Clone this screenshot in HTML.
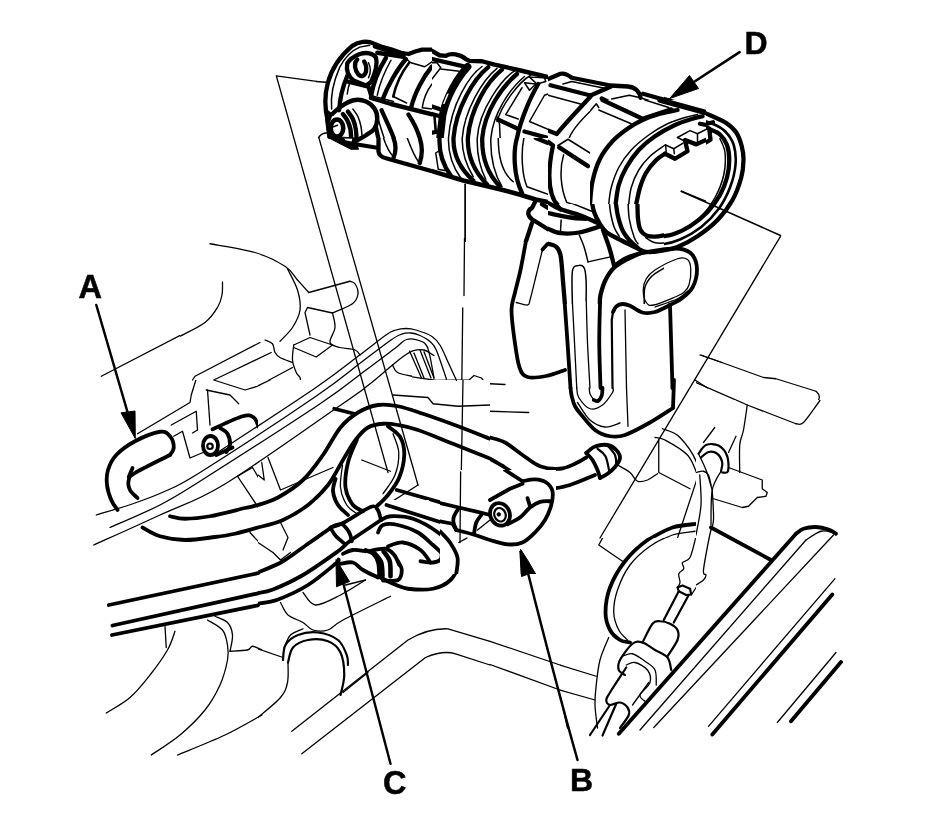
<!DOCTYPE html>
<html><head><meta charset="utf-8"><title>Diagram</title>
<style>
html,body{margin:0;padding:0;background:#fff;}
body{width:928px;height:833px;overflow:hidden;}
svg{display:block}
path,ellipse,line,circle{vector-effect:non-scaling-stroke}
.k{fill:none;stroke:#000;stroke-width:3.8px;stroke-linecap:round;stroke-linejoin:round}
.m{fill:none;stroke:#000;stroke-width:2.2px;stroke-linecap:round;stroke-linejoin:round}
.t{fill:none;stroke:#000;stroke-width:1.3px;stroke-linecap:round;stroke-linejoin:round}
.tube .k{stroke-width:4.3px}.tube .t{stroke-width:1.5px}.tube .m{stroke-width:2.6px}
.f{fill:#000;stroke:#000;stroke-width:1px}
.w{fill:#fff;stroke:none}
text{filter:grayscale(1);stroke:#000;stroke-width:.5px;font-family:"Liberation Sans",sans-serif;font-weight:bold;fill:#000}
</style></head><body>
<svg width="928" height="833" viewBox="0 0 928 833">
<defs>
<clipPath id="c8"><rect x="0" y="0" width="928" height="832"/></clipPath>
<clipPath id="cR"><rect x="416" y="-200" width="800" height="1400"/></clipPath>
<clipPath id="cC"><path d="M548 34H664V100H590V138H548Z"/></clipPath>
<clipPath id="cG"><path d="M548 138H590V204H548Z"/></clipPath>
<clipPath id="cJ"><rect x="548" y="204" width="116" height="100"/></clipPath>
<clipPath id="cH"><rect x="590" y="100" width="116" height="104"/></clipPath>
<clipPath id="cRing"><path d="M664 34H928V320H664V204H706V100H664Z"/></clipPath>
<clipPath id="cK"><path d="M258 380H490V470H440V500H258Z"/></clipPath>
<clipPath id="cL"><path d="M258 500H440V574H490V740H258Z"/></clipPath>
<clipPath id="c5"><rect x="0" y="200" width="180" height="180"/></clipPath>
<clipPath id="cM"><path d="M180 200H316V242H412V380H258V400H180Z"/></clipPath>
<clipPath id="c6"><rect x="0" y="380" width="258" height="208"/></clipPath>
<clipPath id="cP"><rect x="696" y="220" width="232" height="180"/></clipPath>
<clipPath id="cQ"><rect x="696" y="400" width="232" height="208"/></clipPath>
<clipPath id="c4"><path d="M490 330H696V538H556V470H490Z"/></clipPath>
<clipPath id="cU"><rect x="440" y="470" width="116" height="104"/></clipPath>
<clipPath id="cR2"><path d="M560 538H696V608H792V740H560Z"/></clipPath>
<clipPath id="cY"><rect x="412" y="238" width="78" height="142"/></clipPath>
</defs>
<rect width="928" height="833" fill="#fff"/>
<g class="tube">
<!--A tube left top-->
<g transform="translate(316,34) scale(.125)" clip-path="url(#c8)">
<path class="k" d="M95 700 C70 600 70 480 95 390 C125 280 200 170 290 95 C340 60 410 52 460 75 L520 100 L600 122 L680 150 L740 160 L800 138 L850 125 L928 125"/>
<path class="t" d="M125 600 C115 500 140 380 190 265 C230 190 290 130 350 105 L430 90"/>
<path class="k" d="M185 610 C190 520 215 420 250 335"/>
<path class="t" d="M250 480 C255 440 262 410 272 385"/>
<path class="k" d="M250 235 C270 200 300 180 350 160 C400 145 460 150 480 190 C495 240 470 320 440 385 L400 412 L300 372 C260 340 240 290 250 235 Z"/>
<path class="k" d="M330 205 C300 230 310 290 340 325 C360 345 390 340 400 300 C405 270 395 235 385 220"/>
<path class="t" d="M420 230 C440 270 440 310 420 350"/>
<path class="k" d="M250 380 L420 422 L445 505"/>
<path class="k" d="M470 100 L700 172"/>
<path class="k" d="M490 150 L700 182"/>
<path class="k" d="M560 190 C510 270 460 380 440 500"/>
<path class="t" d="M600 210 C560 280 510 390 490 490"/>
<path class="k" d="M720 200 C650 280 570 420 530 530"/>
<path class="m" d="M745 230 C690 300 640 400 618 500"/>
<path class="t" d="M618 500 L725 552"/>
<path class="t" d="M700 182 L760 230 L870 262 L928 222"/>
<path class="k" d="M928 260 C860 340 790 470 762 585"/>
<path class="t" d="M928 400 C890 450 860 520 850 590 L928 600"/>
<path class="k" style="stroke-width:4.4px" d="M440 512 L600 560 L928 642"/>
<path class="t" d="M450 495 L620 540"/>
<path class="k" d="M525 610 C560 690 600 770 622 832"/>
<path class="k" d="M478 740 L498 832"/>
<path class="k" d="M740 645 C790 720 815 780 830 832"/>
<path class="t" d="M500 690 C515 740 530 790 545 832"/>
<path class="t" d="M20 832 C30 805 60 792 95 790"/>
<path class="t" d="M0 380 L80 386"/>
</g>
<!--B-->
<g transform="translate(432,34) scale(.125)" clip-path="url(#c8)">
<path class="k" style="stroke-width:4.4px" d="M0 135 L60 170 L110 175 C150 150 225 160 270 200 L300 215 L400 218 L500 245 L700 290 L928 345"/>
<path class="k" d="M0 200 L280 265"/>
<path class="t" d="M0 230 L40 230 L70 270 L0 360 M70 280 L250 302"/>
<path class="k" style="stroke-width:7.5px" d="M285 262 C205 350 115 500 85 650 L64 832"/>
<path class="w" d="M120 480 L135 475 L100 560 L88 560 Z"/>
<path class="k" d="M0 640 L70 660"/>
<path class="k" d="M0 580 L60 600 M0 790 L50 780"/>
<path class="m" d="M20 660 L30 780"/>
<path class="t" d="M400 260 C300 330 150 560 132 832"/>
<path class="k" d="M450 265 C330 360 190 600 172 832"/>
<path class="t" d="M520 275 C400 370 258 620 242 832"/>
<path class="k" d="M560 285 C440 380 305 600 287 832"/>
<path class="t" d="M660 295 C560 360 378 600 362 832"/>
<path class="k" d="M680 320 C560 420 420 620 402 832"/>
<path class="t" d="M740 340 C620 440 488 640 471 832"/>
<path class="t" d="M790 330 C700 380 560 560 520 700"/>
<path class="k" d="M850 400 C790 500 710 680 680 832"/>
<path class="t" d="M780 345 L900 350 L910 380 L840 400 Z M740 390 L830 400 L780 450 Z"/>
<path class="t" d="M720 430 L590 645 L690 680"/>
<path class="k" d="M530 685 L690 760"/>
<path class="t" d="M520 660 L540 720 L545 832"/>
<path class="k" d="M740 780 L928 832"/>
<path class="t" d="M928 480 L900 490 L780 700 L928 762"/>
</g>
<!--C-->
<g clip-path="url(#cC)"><g transform="translate(548,34) scale(.125)">
<path class="k" d="M0 360 L100 318 C130 312 160 325 190 350 L500 412 L640 420 C700 425 735 465 740 510"/>
<path class="k" d="M760 478 L928 525"/>
<path class="t" d="M740 510 L928 572"/>
<path class="k" d="M20 410 L340 492 L500 422"/>
<path class="k" d="M340 500 C250 600 150 700 70 800 L0 772"/>
<path class="t" d="M120 400 L190 380 L480 440 M0 490 L260 560"/>
<path class="k" d="M430 515 L750 682 L928 622"/>
<path class="k" d="M750 690 C680 740 620 790 570 832"/>
<path class="t" d="M510 520 L650 490 L740 510 M400 610 L680 722 M400 560 C300 650 200 750 170 832"/>
<path class="t" d="M780 832 L928 742"/>
<path class="k" d="M850 832 L928 792"/>
</g></g>
<!--E-->
<g transform="translate(316,138) scale(.125)" clip-path="url(#c8)">
<path class="k" d="M500 0 L500 110 C505 140 530 155 560 162 L928 265"/>
<path class="k" d="M620 0 C640 50 640 110 620 160 M830 0 C850 60 850 140 830 200"/>
<path class="t" d="M540 0 C560 60 590 120 620 150 M730 0 C760 80 790 150 820 190"/>
</g>
<!--F-->
<g transform="translate(432,138) scale(.125)" clip-path="url(#c8)">
<path class="k" style="stroke-width:4.6px" d="M0 265 L250 340 L550 412 L700 452 L830 492 L928 512"/>
<path class="k" d="M60 0 C55 120 90 220 150 300"/>
<path class="t" d="M132 0 C128 120 165 230 230 320"/>
<path class="k" d="M172 0 C168 130 230 250 330 340"/>
<path class="t" d="M242 0 C238 120 275 220 330 310"/>
<path class="k" d="M287 0 C283 140 340 270 440 370"/>
<path class="t" d="M362 0 C358 130 385 240 430 330"/>
<path class="k" d="M402 0 C398 140 440 280 540 385"/>
<path class="t" d="M471 0 C466 140 495 280 560 390"/>
<path class="t" d="M530 0 C530 140 560 280 650 350"/>
<path class="k" d="M680 0 C650 100 650 300 720 440"/>
<path class="t" d="M735 0 C710 120 720 300 760 390 L928 450"/>
<path class="t" d="M30 120 L50 250 L100 260 M30 120 L60 100"/>
<path class="t" style="stroke-width:1.7px" d="M265 370 L265 832"/>
<path class="k" d="M830 0 L928 40"/>
<path class="k" d="M830 500 L800 560 C760 580 760 620 800 650 L928 730 M880 530 L928 560 M800 680 L750 832"/>
</g>
<!--G-->
<g clip-path="url(#cG)"><g transform="translate(548,138) scale(.125)">
<path class="k" d="M570 0 C470 80 400 180 370 300 C345 420 350 540 400 660 L460 832"/>
<path class="k" d="M0 30 L40 60 C10 200 0 350 30 450 C50 520 90 560 150 580 L400 662"/>
<path class="k" d="M90 75 L320 225"/>
<path class="t" d="M80 60 L160 10 L360 135 M125 135 C90 250 100 400 150 515 L350 580"/>
<path class="t" d="M760 0 C640 100 540 250 500 400 C470 540 490 700 560 800"/>
<path class="k" d="M880 0 C750 80 620 220 560 400 C520 550 540 700 620 832"/>
<path class="t" d="M928 60 C800 150 700 300 650 480 C630 600 650 740 700 832"/>
<path class="k" d="M928 140 C800 230 730 380 710 520 C700 650 720 760 800 800 L928 770"/>
<path class="k" d="M0 520 L100 570 M0 600 L180 640 L400 700 M0 740 C100 780 250 770 420 712"/>
<path class="t" d="M105 650 L100 750 M250 780 L270 832"/>
</g></g>
<g transform="translate(316,34) scale(.125)">
<path class="k" style="stroke-width:4.4px" d="M130 640 C141.7 630.0 171.7 598.3 200 580 C228.3 561.7 266.7 536.7 300 530 C333.3 523.3 371.7 528.3 400 540 C428.3 551.7 455.0 576.7 470 600 C485.0 623.3 490.8 653.3 490 680 C489.2 706.7 480.0 738.3 465 760 C450.0 781.7 422.5 795.0 400 810 C377.5 825.0 341.7 843.3 330 850"/>
<ellipse class="k" style="stroke-width:4.6px" cx="168" cy="752" rx="50" ry="68"/>
<path class="t" d="M140 742 L172 730"/>
<path class="k" style="stroke-width:4.4px" d="M215 640 C220.8 648.3 240.0 670.0 250 690 C260.0 710.0 269.7 733.3 275 760 C280.3 786.7 280.8 835.0 282 850"/>
<path class="k" d="M255 620 C261.7 630.0 284.5 656.7 295 680 C305.5 703.3 313.0 731.7 318 760 C323.0 788.3 323.8 835.0 325 850"/>
<path class="t" d="M295 600 C301.7 610.0 324.2 636.7 335 660 C345.8 683.3 354.5 713.3 360 740 C365.5 766.7 366.7 806.7 368 820"/>
<path class="f" d="M80 600 L130 640 L110 700 L118 820 L350 834 L322 872 L340 922 L280 922 L200 882 L120 840 L95 832 L78 700 Z"/>
<path class="w" d="M225 835 L290 838 L285 860 L235 850 Z"/>
<path class="k" d="M330 884 L490 910"/>
</g>
<g clip-path="url(#cRing)"><g transform="translate(560,70) scale(.25)">
<path class="k" d="M380 104 C386.0 106.0 393.3 109.0 416 116 C438.7 123.0 482.7 134.0 516 146 C549.3 158.0 591.2 177.0 616 188 C640.8 199.0 650.2 201.7 665 212 C679.8 222.3 694.7 234.5 705 250 C715.3 265.5 722.2 286.7 727 305 C731.8 323.3 734.3 339.2 734 360 C733.7 380.8 732.3 403.3 725 430 C717.7 456.7 705.8 491.7 690 520 C674.2 548.3 653.3 575.8 630 600 C606.7 624.2 576.7 647.0 550 665 C523.3 683.0 492.3 698.7 470 708 C447.7 717.3 431.0 718.3 416 721 C401.0 723.7 386.0 723.5 380 724"/>
<path class="m" d="M540 195 C551.7 198.3 590.0 206.7 610 215 C630.0 223.3 645.8 230.8 660 245 C674.2 259.2 688.0 277.5 695 300 C702.0 322.5 704.5 351.7 702 380 C699.5 408.3 691.2 440.8 680 470 C668.8 499.2 654.2 528.7 635 555 C615.8 581.3 590.8 607.5 565 628 C539.2 648.5 507.5 666.3 480 678 C452.5 689.7 423.3 696.0 400 698 C376.7 700.0 357.5 698.0 340 690 C322.5 682.0 302.5 656.7 295 650"/>
<path class="k" d="M600 238 C606.7 241.3 628.7 247.7 640 258 C651.3 268.3 661.8 283.0 668 300 C674.2 317.0 677.0 338.3 677 360 C677.0 381.7 674.2 406.7 668 430 C661.8 453.3 653.0 477.0 640 500 C627.0 523.0 610.0 547.2 590 568 C570.0 588.8 543.3 610.0 520 625 C496.7 640.0 470.0 651.2 450 658 C430.0 664.8 408.3 664.7 400 666"/>
<path class="t" d="M640 275 C643.3 284.2 657.5 305.8 660 330 C662.5 354.2 661.7 390.0 655 420 C648.3 450.0 635.8 481.7 620 510 C604.2 538.3 583.3 567.5 560 590 C536.7 612.5 506.7 632.0 480 645 C453.3 658.0 413.3 664.2 400 668"/>
</g></g>
<g transform="translate(560,70) scale(.25)">
<path class="t" d="M485 485 L882 662"/>
</g>
<line class="k" style="stroke-width:2.6px" x1="739.6" y1="52.1" x2="690" y2="84.5"/>
<path class="f" d="M669.6 98.6 L689.5 75.5 L698.5 88.5 Z"/>
<text x="744.6" y="53.8" font-size="32">D</text>
<!-- H 8x -->
<g clip-path="url(#cH)"><g transform="translate(590,100) scale(.125)">
<path class="k" d="M0 832 C3.3 801.7 6.7 710.3 20 650 C33.3 589.7 53.3 523.3 80 470 C106.7 416.7 143.3 370.0 180 330 C216.7 290.0 260.0 258.3 300 230 C340.0 201.7 376.7 180.0 420 160 C463.3 140.0 513.3 123.3 560 110 C606.7 96.7 676.7 85.0 700 80"/>
<path class="k" style="stroke-width:5.5px" d="M560 0 L928 100"/>
<path class="k" d="M100 0 L420 150 L650 75"/>
<path class="t" d="M440 0 L630 60"/>
<path class="t" d="M0 90 L50 30 L70 60"/>
<path class="t" d="M70 80 L330 190"/>
<path class="t" d="M150 832 C153.3 810.0 156.7 748.7 170 700 C183.3 651.3 203.3 590.0 230 540 C256.7 490.0 290.0 443.3 330 400 C370.0 356.7 421.7 315.0 470 280 C518.3 245.0 571.7 213.3 620 190 C668.3 166.7 720.0 152.5 760 140 C800.0 127.5 843.3 119.2 860 115"/>
<path class="k" d="M205 832 C209.2 806.7 215.8 728.7 230 680 C244.2 631.3 263.3 586.7 290 540 C316.7 493.3 351.7 441.7 390 400 C428.3 358.3 471.7 323.3 520 290 C568.3 256.7 630.0 223.3 680 200 C730.0 176.7 783.3 161.7 820 150 C856.7 138.3 886.7 133.3 900 130"/>
<path class="t" d="M310 832 C313.3 810.0 316.7 745.3 330 700 C343.3 654.7 365.0 601.7 390 560 C415.0 518.3 445.0 483.3 480 450 C515.0 416.7 580.0 375.0 600 360"/>
<path class="k" d="M370 832 C375.0 810.0 386.7 742.0 400 700 C413.3 658.0 428.3 616.7 450 580 C471.7 543.3 505.0 505.0 530 480 C555.0 455.0 588.3 438.3 600 430"/>
<path class="k" d="M600 430 L680 470 L780 410 L760 320 L850 355 L928 320"/>
<path class="t" d="M605 360 L610 420"/>
<path class="t" d="M605 360 L670 390 L745 345"/>
<path class="t" d="M670 390 L675 430"/>
<path class="t" d="M700 300 L800 245 L860 270 L928 235"/>
<path class="t" d="M860 270 L860 340"/>
<path class="t" d="M700 300 L760 330"/>
<path class="k" d="M880 190 L928 200"/>
<path class="t" d="M730 730 L928 810"/>
</g></g>
<!-- tab 8x -->
<g clip-path="url(#cRing)"><g transform="translate(648,86) scale(.125)">
<path class="k" d="M400 490 L500 430 L490 340 L410 310 L480 300 L520 290"/>
<path class="t" d="M240 410 L330 355 L395 385 L480 340"/>
<path class="t" d="M395 385 L400 450"/>
</g></g>
<g clip-path="url(#cJ)"><g transform="translate(548,200) scale(.125)">
<path class="k" d="M340 -40 C345.0 -16.7 356.7 60.0 370 100 C383.3 140.0 403.3 173.3 420 200 C436.7 226.7 446.7 241.7 470 260 C493.3 278.3 525.0 291.7 560 310 C595.0 328.3 645.0 353.0 680 370 C715.0 387.0 741.7 404.5 770 412 C798.3 419.5 823.7 416.5 850 415 C876.3 413.5 915.0 405.0 928 403"/>
<path class="k" d="M540 0 C543.3 21.7 550.0 88.3 560 130 C570.0 171.7 583.3 216.7 600 250 C616.7 283.3 640.0 307.5 660 330 C680.0 352.5 710.0 375.8 720 385"/>
<path class="t" d="M490 0 C491.7 16.7 493.3 63.3 500 100 C506.7 136.7 518.3 188.3 530 220 C541.7 251.7 563.3 278.3 570 290"/>
<path class="t" d="M640 0 C641.7 25.0 641.7 100.0 650 150 C658.3 200.0 678.3 266.7 690 300 C701.7 333.3 715.0 341.7 720 350"/>
<path class="k" d="M715 0 C715.8 25.0 715.8 110.0 720 150 C724.2 190.0 728.3 217.5 740 240 C751.7 262.5 770.0 276.2 790 285 C810.0 293.8 837.0 293.5 860 293 C883.0 292.5 916.7 283.8 928 282"/>
<path class="t" d="M780 300 C791.7 306.7 825.3 332.5 850 340 C874.7 347.5 915.0 344.2 928 345"/>
<path class="k" d="M0 20 C15.0 28.3 48.3 53.3 90 70 C131.7 86.7 198.3 100.8 250 120 C301.7 139.2 375.0 174.2 400 185"/>
<path class="k" d="M0 105 C30.0 110.8 130.0 132.5 180 140 C230.0 147.5 280.0 148.3 300 150"/>
<path class="k" d="M0 230 C16.7 235.8 58.3 260.0 100 265 C141.7 270.0 196.7 269.2 250 260 C303.3 250.8 391.7 218.3 420 210"/>
<path class="t" d="M105 160 L100 250"/>
<path class="k" d="M40 0 L70 40 L100 75"/>
<path class="t" d="M150 10 L350 90"/>
<path class="k" d="M440 240 C448.3 263.3 475.0 331.7 490 380 C505.0 428.3 523.3 505.0 530 530"/>
<path class="k" d="M760 415 C740.0 424.2 678.3 449.2 640 470 C601.7 490.8 560.0 511.7 530 540 C500.0 568.3 478.3 603.3 460 640 C441.7 676.7 427.5 728.0 420 760 C412.5 792.0 415.8 820.0 415 832"/>
<path class="t" d="M250 280 C256.7 296.7 278.3 344.2 290 380 C301.7 415.8 315.0 475.8 320 495"/>
<path class="t" d="M320 495 L500 455"/>
<path class="k" d="M0 350 C10.0 353.3 43.3 355.0 60 370 C76.7 385.0 90.0 393.3 100 440 C110.0 486.7 114.2 584.7 120 650 C125.8 715.3 132.5 801.7 135 832"/>
<path class="t" d="M195 832 C195.0 788.3 187.5 621.2 195 570 C202.5 518.8 224.2 529.2 240 525 C255.8 520.8 279.2 524.2 290 545 C300.8 565.8 302.5 607.5 305 650 C307.5 692.5 305.0 775.0 305 800"/>
<path class="t" d="M928 545 C911.7 555.8 855.5 584.2 830 610 C804.5 635.8 785.0 663.0 775 700 C765.0 737.0 770.8 810.0 770 832"/>
</g></g>
</g>
<g transform="translate(490,180) scale(.25)">
<path class="k" d="M144 244 C140.3 263.3 129.3 325.7 122 360 C114.7 394.3 106.0 423.3 100 450 C94.0 476.7 86.3 488.3 86 520 C85.7 551.7 92.7 601.7 98 640 C103.3 678.3 109.3 725.3 118 750 C126.7 774.7 132.2 782.3 150 788 C167.8 793.7 200.0 788.7 225 784 C250.0 779.3 287.5 764.0 300 760"/>
<path class="k" d="M210 278 L230 256"/>
<path class="t" d="M210 278 C205.8 295.0 193.3 346.3 185 380 C176.7 413.7 165.8 460.0 160 480 C154.2 500.0 159.2 498.3 150 500 C140.8 501.7 112.5 491.7 105 490"/>
<path class="k" d="M299 496 C300.8 521.7 306.2 594.0 310 650 C313.8 706.0 320.0 801.7 322 832"/>
<path class="t" d="M330 496 C331.3 521.7 335.2 594.0 338 650 C340.8 706.0 345.5 801.7 347 832"/>
<path class="t" d="M385 480 C385.8 508.3 387.5 591.3 390 650 C392.5 708.7 398.3 801.7 400 832"/>
<path class="k" d="M440 496 C439.5 521.7 436.7 594.0 437 650 C437.3 706.0 441.2 801.7 442 832"/>
<path class="m" d="M490 832 L487 560 L492 528"/>
<path class="k" d="M492 528 C494.2 524.3 498.7 511.3 505 506 C511.3 500.7 520.8 496.5 530 496 C539.2 495.5 546.7 497.3 560 503 C573.3 508.7 593.3 525.8 610 530 C626.7 534.2 641.7 533.0 660 528 C678.3 523.0 710.0 504.7 720 500"/>
<path class="k" d="M720 500 L730 832"/>
<path class="k" d="M500 340 C510.0 334.2 530.0 315.0 560 305 C590.0 295.0 646.7 285.0 680 280 C713.3 275.0 738.3 271.7 760 275 C781.7 278.3 798.7 285.8 810 300 C821.3 314.2 828.0 338.3 828 360 C828.0 381.7 820.5 410.8 810 430 C799.5 449.2 780.0 463.3 765 475 C750.0 486.7 727.5 495.8 720 500"/>
<path class="t" d="M613 440 C613.0 424.2 617.2 408.3 625 395 C632.8 381.7 639.2 373.3 660 360 C680.8 346.7 728.3 322.0 750 315 C771.7 308.0 781.2 311.3 790 318 C798.8 324.7 802.0 338.0 803 355 C804.0 372.0 800.7 404.2 796 420 C791.3 435.8 784.3 442.0 775 450 C765.7 458.0 760.0 459.7 740 468 C720.0 476.3 674.2 496.3 655 500 C635.8 503.7 632.0 500.0 625 490 C618.0 480.0 613.0 455.8 613 440 Z"/>
<path class="t" d="M660 508 C675.0 502.5 728.3 485.5 750 475 C771.7 464.5 783.3 450.0 790 445"/>
<path class="t" d="M540 520 L546 832"/>
<path class="t" d="M840 700 L928 730"/>
<path class="t" d="M820 800 L870 832"/>
</g>
<g clip-path="url(#c4)"><g transform="translate(490,330) scale(.25)">
<path class="k" d="M322 232 C322.8 237.5 324.0 252.8 327 265 C330.0 277.2 333.5 292.5 340 305 C346.5 317.5 352.7 324.2 366 340 C379.3 355.8 401.0 385.8 420 400 C439.0 414.2 460.0 421.7 480 425 C500.0 428.3 513.3 429.2 540 420 C566.7 410.8 608.0 388.0 640 370 C672.0 352.0 716.7 321.7 732 312"/>
<path class="k" d="M732 312 L736 200 L730 232"/>
<path class="k" d="M450 232 C449.5 237.0 450.0 253.3 447 262 C444.0 270.7 437.3 281.0 432 284 C426.7 287.0 417.8 280.7 415 280"/>
<path class="t" d="M397 232 C397.5 235.8 397.0 247.0 400 255 C403.0 263.0 412.5 275.8 415 280"/>
<path class="t" d="M347 232 C348.3 238.3 346.2 256.2 355 270 C363.8 283.8 384.2 310.0 400 315 C415.8 320.0 435.0 310.8 450 300 C465.0 289.2 483.0 261.3 490 250 C497.0 238.7 491.7 235.0 492 232"/>
<path class="t" d="M350 290 C358.3 301.7 381.7 343.7 400 360 C418.3 376.3 440.0 386.0 460 388 C480.0 390.0 510.0 374.7 520 372"/>
<path class="t" d="M546 232 L552 385"/>
<path class="k" d="M0 430 C10.0 433.3 38.3 438.3 60 450 C81.7 461.7 106.7 484.2 130 500 C153.3 515.8 175.0 535.8 200 545 C225.0 554.2 256.7 556.7 280 555 C303.3 553.3 322.5 542.5 340 535 C357.5 527.5 377.5 514.2 385 510"/>
<path class="k" d="M0 515 C10.0 520.8 38.3 535.8 60 550 C81.7 564.2 118.3 591.7 130 600"/>
<path class="k" d="M250 635 C261.7 632.5 291.7 629.2 320 620 C348.3 610.8 403.3 586.7 420 580"/>
<path class="k" d="M385 492 C390.8 487.7 405.8 471.3 420 466 C434.2 460.7 455.8 457.7 470 460 C484.2 462.3 496.7 471.3 505 480 C513.3 488.7 520.8 500.7 520 512 C519.2 523.3 508.3 537.5 500 548 C491.7 558.5 480.0 567.7 470 575 C460.0 582.3 445.0 589.2 440 592"/>
<path class="k" d="M385 492 C389.2 496.7 402.5 508.7 410 520 C417.5 531.3 425.0 548.0 430 560 C435.0 572.0 438.3 586.7 440 592"/>
<path class="m" d="M430 475 C435.3 480.0 454.0 489.2 462 505 C470.0 520.8 475.3 559.2 478 570"/>
<path class="m" d="M470 462 C475.0 468.3 494.2 487.0 500 500 C505.8 513.0 504.2 533.3 505 540"/>
<path class="k" d="M0 700 C10.0 691.7 41.7 664.2 60 650 C78.3 635.8 91.7 623.3 110 615 C128.3 606.7 150.8 599.2 170 600 C189.2 600.8 211.7 606.7 225 620 C238.3 633.3 249.2 663.0 250 680 C250.8 697.0 246.7 708.7 230 722 C213.3 735.3 176.7 749.5 150 760 C123.3 770.5 91.7 783.0 70 785 C48.3 787.0 28.3 774.2 20 772"/>
<circle class="k" cx="38" cy="735" r="40"/>
<circle class="m" cx="38" cy="738" r="22"/>
<path class="k" d="M250 690 C247.5 698.3 240.8 725.0 235 740 C229.2 755.0 225.0 764.7 215 780 C205.0 795.3 181.7 823.3 175 832"/>
<path class="k" d="M150 670 L158 700"/>
<path class="t" d="M0 215 L60 218"/>
<path class="t" d="M0 325 L155 330"/>
<path class="t" d="M845 95 L928 130"/>
<path class="t" d="M830 210 L928 250"/>
<path class="t" d="M690 395 C701.7 400.8 736.7 405.8 760 430 C783.3 454.2 815.0 495.0 830 540 C845.0 585.0 847.5 651.3 850 700 C852.5 748.7 845.8 810.0 845 832"/>
<path class="t" d="M660 430 C666.7 431.7 678.3 428.3 700 440 C721.7 451.7 768.3 476.7 790 500 C811.7 523.3 823.3 566.7 830 580"/>
<path class="t" d="M675 440 L675 570 L800 635"/>
<path class="t" d="M510 540 C518.3 545.0 546.7 559.2 560 570 C573.3 580.8 578.3 600.0 590 605 C601.7 610.0 616.7 605.0 630 600 C643.3 595.0 663.3 579.2 670 575"/>
<path class="t" d="M900 390 L870 440"/>
<path class="t" d="M830 460 C836.7 459.2 853.7 455.0 870 455 C886.3 455.0 918.3 459.2 928 460"/>
<path class="t" d="M850 500 C856.7 498.3 877.0 490.8 890 490 C903.0 489.2 921.7 494.2 928 495"/>
<path class="t" d="M750 832 L830 590"/>
<path class="t" d="M890 600 L928 680"/>
<path class="t" d="M880 832 C878.3 801.7 876.7 695.3 870 650 C863.3 604.7 845.0 575.0 840 560"/>
<path class="t" d="M640 865 C655.0 857.5 700.0 830.0 730 820 C760.0 810.0 805.0 807.5 820 805"/>
<path class="k" d="M630 840 C646.7 831.7 696.7 800.8 730 790 C763.3 779.2 813.3 777.5 830 775"/>
</g></g>
<g clip-path="url(#cK)"><g transform="translate(258,380) scale(.25)">
<path class="k" d="M0 500 C13.3 495.0 50.0 486.7 80 470 C110.0 453.3 150.0 428.3 180 400 C210.0 371.7 235.0 335.0 260 300 C285.0 265.0 306.7 218.3 330 190 C353.3 161.7 375.0 145.0 400 130 C425.0 115.0 453.3 104.2 480 100 C506.7 95.8 530.0 99.2 560 105 C590.0 110.8 620.0 121.7 660 135 C700.0 148.3 755.3 168.3 800 185 C844.7 201.7 906.7 226.7 928 235"/>
<path class="k" d="M0 590 C16.7 585.0 66.7 575.0 100 560 C133.3 545.0 170.0 523.3 200 500 C230.0 476.7 256.7 450.0 280 420 C303.3 390.0 321.7 350.0 340 320 C358.3 290.0 373.3 261.7 390 240 C406.7 218.3 421.7 200.8 440 190 C458.3 179.2 480.0 176.7 500 175 C520.0 173.3 536.7 175.8 560 180 C583.3 184.2 603.3 187.5 640 200 C676.7 212.5 732.0 236.0 780 255 C828.0 274.0 903.3 304.2 928 314"/>
<path class="k" d="M305 115 L385 135"/>
<path class="t" d="M-2 24 L48 0"/>
<path class="k" d="M395 240 C389.2 255.0 367.5 298.3 360 330 C352.5 361.7 346.7 401.7 350 430 C353.3 458.3 368.3 484.2 380 500 C391.7 515.8 413.3 520.8 420 525"/>
<path class="k" d="M520 185 C528.3 192.5 559.2 210.8 570 230 C580.8 249.2 585.8 273.3 585 300 C584.2 326.7 575.8 363.3 565 390 C554.2 416.7 535.0 440.8 520 460 C505.0 479.2 482.5 497.5 475 505"/>
<path class="k" d="M310 395 C308.3 403.3 298.3 427.5 300 445 C301.7 462.5 310.0 484.2 320 500 C330.0 515.8 353.3 533.3 360 540"/>
<path class="t" d="M338 340 C336.7 355.0 327.2 403.3 330 430 C332.8 456.7 344.2 482.5 355 500 C365.8 517.5 388.3 529.2 395 535"/>
<path class="t" d="M540 215 C543.8 227.5 561.7 262.5 563 290 C564.3 317.5 558.5 352.5 548 380 C537.5 407.5 508.0 442.5 500 455"/>
<path class="t" d="M40 310 L90 440 L300 350"/>
<path class="t" d="M15 330 L25 400 L0 380"/>
<path class="t" d="M640 420 L530 490"/>
<path class="t" d="M415 320 L530 365"/>
<path class="t" d="M540 60 L680 70 L700 95 L800 105 L928 100"/>
<path class="t" d="M820 0 L808 650 L870 620"/>
<path class="k" d="M290 590 C298.3 586.7 313.3 584.2 340 570 C366.7 555.8 426.7 513.3 450 505 C473.3 496.7 473.3 510.8 480 520 C486.7 529.2 488.3 553.3 490 560"/>
<path class="k" d="M290 590 C293.3 595.0 300.0 609.2 310 620 C320.0 630.8 343.3 649.2 350 655"/>
<path class="k" d="M350 655 L490 560"/>
<path class="m" d="M340 572 C344.2 576.7 358.7 589.3 365 600 C371.3 610.7 375.8 630.0 378 636"/>
<path class="k" d="M555 440 L809 512"/>
<path class="k" d="M514 500 L784 585"/>
<path class="k" d="M800 525 C793.3 532.5 790.0 547.5 790 560 C790.0 572.5 793.3 591.3 800 600 C806.7 608.7 820.0 610.0 830 612 C840.0 614.0 851.7 620.7 860 612 C868.3 603.3 878.3 575.0 880 560 C881.7 545.0 878.3 529.5 870 522 C861.7 514.5 841.7 514.5 830 515 C818.3 515.5 806.7 517.5 800 525 Z"/>
<path class="t" d="M808 650 L808 600"/>
<path class="k" d="M290 590 C275.0 600.0 231.7 628.3 200 650 C168.3 671.7 133.3 700.0 100 720 C66.7 740.0 16.7 761.7 0 770"/>
<path class="k" d="M350 655 C333.3 665.8 283.3 697.5 250 720 C216.7 742.5 176.7 771.3 150 790 C123.3 808.7 100.0 825.0 90 832"/>
<path class="k" d="M490 560 C501.7 557.5 531.7 543.3 560 545 C588.3 546.7 630.0 557.5 660 570 C690.0 582.5 718.3 601.7 740 620 C761.7 638.3 780.0 658.3 790 680 C800.0 701.7 801.7 724.7 800 750 C798.3 775.3 783.3 818.3 780 832"/>
<path class="k" d="M480 600 C486.7 595.3 500.0 575.3 520 572 C540.0 568.7 573.3 572.0 600 580 C626.7 588.0 660.0 603.3 680 620 C700.0 636.7 710.3 668.3 720 680 C729.7 691.7 735.0 688.3 738 690"/>
<path class="k" d="M500 650 C510.0 647.5 536.7 633.3 560 635 C583.3 636.7 616.7 645.8 640 660 C663.3 674.2 686.3 713.3 700 720 C713.7 726.7 718.3 703.3 722 700"/>
<path class="k" d="M380 670 C390.0 672.5 425.0 676.7 440 685 C455.0 693.3 463.3 704.2 470 720 C476.7 735.8 478.3 770.0 480 780"/>
<path class="k" d="M440 690 C450.0 688.3 483.3 678.3 500 680 C516.7 681.7 530.0 686.7 540 700 C550.0 713.3 558.3 738.0 560 760 C561.7 782.0 551.7 820.0 550 832"/>
<path class="k" d="M470 720 C476.7 721.7 500.8 720.0 510 730 C519.2 740.0 523.3 763.0 525 780 C526.7 797.0 520.8 823.3 520 832"/>
<path class="m" d="M455 700 C459.2 706.7 474.2 725.0 480 740 C485.8 755.0 488.3 781.7 490 790"/>
<path class="k" d="M310 720 C321.7 721.7 358.3 723.0 380 730 C401.7 737.0 430.0 756.7 440 762"/>
<path class="f" d="M310 715 L365 812 L322 832 Z"/>
<path class="t" d="M0 640 L60 690 L80 720 L140 690"/>
<path class="t" d="M100 580 L120 640 L90 700"/>
</g></g>
<g clip-path="url(#cL)"><g transform="translate(258,500) scale(.25)">
<path class="k" d="M0 20 C13.3 15.0 50.0 6.7 80 -10 C110.0 -26.7 163.3 -68.3 180 -80"/>
<path class="k" d="M0 110 C16.7 105.0 66.7 95.0 100 80 C133.3 65.0 170.0 43.3 200 20 C230.0 -3.3 266.7 -46.7 280 -60"/>
<path class="k" d="M395 -240 C389.2 -225.0 367.5 -181.7 360 -150 C352.5 -118.3 346.7 -78.3 350 -50 C353.3 -21.7 368.3 4.2 380 20 C391.7 35.8 413.3 40.8 420 45"/>
<path class="k" d="M520 -295 C528.3 -287.5 559.2 -269.2 570 -250 C580.8 -230.8 585.8 -206.7 585 -180 C584.2 -153.3 575.8 -116.7 565 -90 C554.2 -63.3 535.0 -39.2 520 -20 C505.0 -0.8 482.5 17.5 475 25"/>
<path class="k" d="M310 -85 C308.3 -76.7 298.3 -52.5 300 -35 C301.7 -17.5 310.0 4.2 320 20 C330.0 35.8 353.3 53.3 360 60"/>
<path class="t" d="M338 -140 C336.7 -125.0 327.2 -76.7 330 -50 C332.8 -23.3 344.2 2.5 355 20 C365.8 37.5 388.3 49.2 395 55"/>
<path class="t" d="M540 -265 C543.8 -252.5 561.7 -217.5 563 -190 C564.3 -162.5 558.5 -127.5 548 -100 C537.5 -72.5 508.0 -37.5 500 -25"/>
<path class="k" d="M290 110 C298.3 107.0 313.3 105.7 340 92 C366.7 78.3 427.0 37.0 450 28 C473.0 19.0 471.0 29.3 478 38 C485.0 46.7 489.7 73.0 492 80"/>
<path class="k" d="M492 80 L380 155 L350 178"/>
<path class="k" d="M300 105 C305.8 103.7 324.2 92.8 335 97 C345.8 101.2 358.3 118.7 365 130 C371.7 141.3 373.3 159.2 375 165"/>
<path class="k" d="M290 112 C293.7 117.5 302.0 134.0 312 145 C322.0 156.0 343.7 172.5 350 178"/>
<path class="k" d="M0 290 C16.7 282.5 66.7 264.2 100 245 C133.3 225.8 168.3 197.2 200 175 C231.7 152.8 275.0 122.5 290 112"/>
<path class="k" d="M0 372 C10.0 369.7 30.0 370.0 60 358 C90.0 346.0 136.7 325.5 180 300 C223.3 274.5 291.7 225.3 320 205 C348.3 184.7 345.0 182.5 350 178"/>
<path class="k" d="M0 415 C13.3 412.2 46.7 410.5 80 398 C113.3 385.5 161.7 363.8 200 340 C238.3 316.2 289.7 272.0 310 255 C330.3 238.0 320.0 240.8 322 238"/>
<path class="f" d="M312 238 L314 347 L366 326 Z"/>
<path class="k" d="M492 80 C498.3 77.5 508.7 65.8 530 65 C551.3 64.2 588.3 64.2 620 75 C651.7 85.8 691.7 109.2 720 130 C748.3 150.8 776.7 178.3 790 200 C803.3 221.7 803.3 240.0 800 260 C796.7 280.0 786.7 304.2 770 320 C753.3 335.8 728.3 349.2 700 355 C671.7 360.8 626.7 358.3 600 355 C573.3 351.7 560.0 343.3 540 335 C520.0 326.7 490.0 310.0 480 305"/>
<path class="k" d="M480 130 C483.3 125.0 486.7 105.0 500 100 C513.3 95.0 536.7 95.0 560 100 C583.3 105.0 616.7 116.7 640 130 C663.3 143.3 684.2 166.3 700 180 C715.8 193.7 729.2 206.7 735 212"/>
<path class="k" d="M735 212 C734.2 216.3 735.8 231.7 730 238 C724.2 244.3 713.3 248.8 700 250 C686.7 251.2 658.3 245.8 650 245"/>
<path class="k" d="M520 185 C530.0 182.5 558.3 167.5 580 170 C601.7 172.5 631.7 186.7 650 200 C668.3 213.3 683.3 241.7 690 250"/>
<path class="k" d="M560 245 C562.5 250.8 575.0 267.5 575 280 C575.0 292.5 572.5 313.0 560 320 C547.5 327.0 510.0 321.7 500 322"/>
<path class="k" d="M430 200 C435.0 202.5 451.7 206.7 460 215 C468.3 223.3 475.8 235.8 480 250 C484.2 264.2 484.2 291.7 485 300"/>
<path class="k" d="M440 205 C451.7 203.3 492.5 192.5 510 195 C527.5 197.5 535.8 209.2 545 220 C554.2 230.8 561.7 253.3 565 260"/>
<path class="k" style="stroke-width:4.6px" d="M468 215 C472.2 220.8 488.0 235.0 493 250 C498.0 265.0 497.2 295.8 498 305"/>
<path class="k" style="stroke-width:4.6px" d="M502 205 C506.2 211.7 522.3 228.3 527 245 C531.7 261.7 529.5 295.0 530 305"/>
<path class="k" d="M340 215 C346.7 212.5 365.0 201.7 380 200 C395.0 198.3 421.7 204.2 430 205"/>
<path class="k" d="M330 255 C338.3 254.2 365.0 245.8 380 250 C395.0 254.2 403.3 270.0 420 280 C436.7 290.0 470.0 305.0 480 310"/>
<path class="k" d="M514 20 L728 88 L784 105"/>
<path class="k" d="M690 -2 L809 32"/>
<path class="k" d="M800 45 C793.3 52.5 790.0 67.5 790 80 C790.0 92.5 793.3 111.3 800 120 C806.7 128.7 820.0 130.0 830 132 C840.0 134.0 851.7 140.7 860 132 C868.3 123.3 878.3 95.0 880 80 C881.7 65.0 878.3 49.5 870 42 C861.7 34.5 841.7 34.5 830 35 C818.3 35.5 806.7 37.5 800 45 Z"/>
<path class="t" d="M350 340 L430 320"/>
<path class="t" d="M180 370 C188.3 378.3 205.0 418.3 230 420 C255.0 421.7 296.7 396.7 330 380 C363.3 363.3 413.3 330.0 430 320"/>
<path class="t" d="M90 410 C95.0 418.3 105.0 446.7 120 460 C135.0 473.3 163.3 480.0 180 490 C196.7 500.0 203.3 515.0 220 520 C236.7 525.0 260.0 526.7 280 520 C300.0 513.3 298.3 502.5 340 480 C381.7 457.5 498.3 400.8 530 385"/>
<path class="m" d="M100 640 C101.7 630.0 100.0 596.7 110 580 C120.0 563.3 138.3 548.3 160 540 C181.7 531.7 213.3 526.7 240 530 C266.7 533.3 300.8 545.0 320 560 C339.2 575.0 348.3 603.3 355 620 C361.7 636.7 359.2 653.3 360 660"/>
<path class="m" d="M120 650 C123.3 640.0 126.7 605.0 140 590 C153.3 575.0 176.7 564.2 200 560 C223.3 555.8 258.3 556.7 280 565 C301.7 573.3 319.2 587.5 330 610 C340.8 632.5 345.0 671.7 345 700 C345.0 728.3 332.5 766.7 330 780"/>
<path class="t" d="M105 590 C109.2 581.7 117.5 552.5 130 540 C142.5 527.5 171.7 519.2 180 515"/>
<path class="t" d="M120 650 C119.7 663.3 123.0 706.7 118 730 C113.0 753.3 109.7 766.7 90 790 C70.3 813.3 15.0 856.7 0 870"/>
<path class="t" d="M0 595 L100 630"/>
<path class="t" d="M340 770 L440 690"/>
<path class="t" d="M0 170 L60 210 L90 240 L130 210"/>
<path class="t" d="M90 90 L120 150 L100 200"/>
<path class="t" d="M808 170 L808 120 L870 140"/>
</g></g>
<text x="78.6" y="297.8" font-size="32.5">A</text>
<line class="k" style="stroke-width:2.5px" x1="96.3" y1="305" x2="127.5" y2="412"/>
<path class="f" d="M135.3 438.5 L121 412.8 L135 411 Z"/>
<g clip-path="url(#c5)"><g transform="translate(60,230) scale(.25)">
<path class="t" d="M600 52 C630.0 58.3 733.3 75.3 780 90 C826.7 104.7 855.3 125.8 880 140 C904.7 154.2 920.0 169.2 928 175"/>
<path class="t" d="M928 150 C924.2 153.3 905.0 161.7 905 170 C905.0 178.3 924.2 195.0 928 200"/>
<path class="t" d="M648 205 C648.3 214.2 653.0 240.8 650 260 C647.0 279.2 641.7 301.7 630 320 C618.3 338.3 588.3 361.7 580 370"/>
<path class="t" d="M580 370 L165 585"/>
<path class="t" d="M800 450 C756.7 472.5 586.7 556.7 540 585 C493.3 613.3 522.5 609.2 520 620 C517.5 630.8 528.3 638.3 525 650 C521.7 661.7 504.2 683.3 500 690"/>
<path class="t" d="M500 690 L310 832"/>
<path class="t" d="M820 440 C825.0 442.5 843.3 446.7 850 455 C856.7 463.3 855.0 480.8 860 490 C865.0 499.2 868.7 504.2 880 510 C891.3 515.8 920.0 522.5 928 525"/>
<path class="t" d="M850 490 L615 600 L740 640 L790 625 L928 545"/>
<path class="t" d="M928 385 L870 445"/>
<path class="t" d="M585 640 L600 780"/>
<path class="t" d="M585 635 L680 670 L715 700"/>
<path class="t" d="M545 715 L440 780"/>
</g></g>
<g clip-path="url(#c6)"><g transform="translate(60,380) scale(.25)">
<path class="k" d="M230 520 C225.8 513.3 212.0 496.7 205 480 C198.0 463.3 190.2 440.0 188 420 C185.8 400.0 185.8 380.0 192 360 C198.2 340.0 207.0 319.2 225 300 C243.0 280.8 270.8 260.5 300 245 C329.2 229.5 376.7 210.3 400 207 C423.3 203.7 430.8 214.5 440 225 C449.2 235.5 455.0 257.5 455 270 C455.0 282.5 442.5 295.0 440 300"/>
<path class="k" d="M440 300 C416.7 312.0 327.5 355.3 300 372 C272.5 388.7 278.3 388.7 275 400 C271.7 411.3 274.2 428.0 280 440 C285.8 452.0 305.0 466.7 310 472"/>
<path class="k" d="M275 388 L290 352"/>
<ellipse class="k" cx="602" cy="262" rx="30" ry="38"/>
<circle class="m" cx="600" cy="265" r="11"/>
<path class="k" d="M610 197 C630.0 188.3 702.5 152.8 730 145 C757.5 137.2 764.2 142.8 775 150 C785.8 157.2 791.7 181.7 795 188"/>
<path class="k" d="M625 300 L690 270"/>
<path class="k" d="M640 192 C645.0 195.8 663.3 203.7 670 215 C676.7 226.3 680.8 247.8 680 260 C679.2 272.2 667.5 283.3 665 288"/>
<path class="t" d="M310 215 L520 90 L525 60 L545 -5"/>
<path class="t" d="M445 180 L545 125 L550 200 L530 212"/>
<path class="t" d="M455 225 L490 205 L520 312 L572 290"/>
<path class="t" d="M590 40 L600 180"/>
<path class="t" d="M585 40 L680 60 L715 95"/>
<path class="t" d="M710 385 L770 350 L800 400 L830 325 L875 445"/>
<path class="t" d="M710 385 L800 520 L880 725"/>
<path class="t" d="M760 610 L880 740"/>
<path class="t" d="M870 590 C875.0 595.0 894.2 605.0 900 620 C905.8 635.0 910.0 663.0 905 680 C900.0 697.0 875.8 715.0 870 722"/>
<path class="k" d="M440 545 C450.0 546.7 473.3 555.0 500 555 C526.7 555.0 560.0 552.2 600 545 C640.0 537.8 708.0 519.5 740 512 C772.0 504.5 760.7 509.5 792 500 C823.3 490.5 905.3 462.5 928 455"/>
<path class="k" d="M330 590 C341.7 595.8 371.7 616.7 400 625 C428.3 633.3 463.3 639.5 500 640 C536.7 640.5 586.7 632.2 620 628 C653.3 623.8 671.3 621.3 700 615 C728.7 608.7 754.0 601.2 792 590 C830.0 578.8 905.3 555.0 928 548"/>
</g></g>
<g clip-path="url(#cM)"><g transform="translate(180,220) scale(.25)">
<path class="t" d="M120 95 C150.0 100.8 250.0 115.0 300 130 C350.0 145.0 391.7 166.7 420 185 C448.3 203.3 454.2 222.5 470 240 C485.8 257.5 507.5 281.7 515 290"/>
<path class="t" d="M515 290 L680 245"/>
<path class="t" d="M680 245 C683.3 246.7 694.7 246.7 700 255 C705.3 263.3 713.7 281.7 712 295 C710.3 308.3 707.0 322.2 690 335 C673.0 347.8 623.3 365.8 610 372"/>
<path class="t" d="M610 372 L510 350 L500 370 L520 460"/>
<path class="t" d="M430 195 C436.7 209.2 461.7 252.5 470 280 C478.3 307.5 483.3 335.0 480 360 C476.7 385.0 463.3 409.2 450 430 C436.7 450.8 408.3 475.8 400 485"/>
<path class="t" d="M170 248 C169.7 256.7 171.3 283.0 168 300 C164.7 317.0 161.3 331.7 150 350 C138.7 368.3 125.0 390.8 100 410 C75.0 429.2 16.7 455.8 0 465"/>
<path class="t" d="M610 372 C611.7 381.7 621.7 410.3 620 430 C618.3 449.7 596.7 476.7 600 490 C603.3 503.3 623.3 505.0 640 510 C656.7 515.0 686.7 515.0 700 520 C713.3 525.0 716.7 536.7 720 540"/>
<path class="t" d="M455 500 L520 470 L610 500 L545 548 L455 510"/>
<path class="t" d="M455 500 C454.2 510.0 448.3 541.7 450 560 C451.7 578.3 460.0 598.3 465 610 C470.0 621.7 475.8 621.7 480 630 C484.2 638.3 479.2 653.7 490 660 C500.8 666.3 535.8 666.7 545 668"/>
<path class="t" d="M320 490 L60 625 L50 640"/>
<path class="t" d="M340 480 C345.0 482.5 363.3 486.7 370 495 C376.7 503.3 375.0 520.8 380 530 C385.0 539.2 388.3 543.3 400 550 C411.7 556.7 441.7 566.7 450 570"/>
<path class="t" d="M365 530 L135 640 L260 680 L310 665 L450 590"/>
<path class="t" d="M850 580 C853.3 585.0 857.0 602.5 870 610 C883.0 617.5 918.3 622.5 928 625"/>
</g></g>
<path class="t" d="M316.5 81.4 L276.3 75.8 L388 472.5 M318.8 137.5 L418 485"/>
<g transform="translate(0,0)">
<path class="t" d="M217.5 452.5 C233.9 441.7 292.3 403.8 316 387.5 C339.7 371.2 348.1 363.8 359.75 355 C371.4 346.2 380.0 339.2 386 335 C392.0 330.8 392.7 331.1 396 330 C399.3 328.9 402.7 328.5 406 328.5 C409.3 328.5 411.7 328.7 416 330 C420.3 331.3 428.0 333.9 432 336.5 C436.0 339.1 437.6 341.2 440.25 345.5 C442.9 349.8 445.3 356.2 448 362 C450.7 367.8 455.1 377.4 456.5 380.5"/>
<path class="t" d="M96.25 515 C102.7 513.0 123.5 507.0 135 503 C146.5 499.0 154.2 496.3 165 491.25 C175.8 486.2 174.8 488.3 200 472.5 C225.2 456.7 289.2 414.6 316 396.25 C342.8 377.9 348.5 371.9 361 362.5 C373.5 353.1 384.3 344.7 391 340 C397.7 335.3 397.7 335.6 401 334.4 C404.3 333.2 407.8 332.8 411 333 C414.2 333.2 416.8 334.0 420 335.5 C423.2 337.0 427.5 339.2 430.25 341.75 C433.0 344.2 433.8 344.2 436.5 350.5 C439.2 356.8 444.8 374.5 446.5 379.25"/>
<path class="t" d="M110 527.5 C118.3 523.8 145.0 512.7 160 505 C175.0 497.3 173.4 498.1 200 481.25 C226.6 464.4 292.1 422.5 319.75 404 C347.4 385.5 353.3 379.4 366 370 C378.7 360.6 389.2 352.6 396 347.5 C402.8 342.4 402.7 340.7 406.5 339.5 C410.3 338.3 415.5 339.1 419 340.5 C422.5 341.9 425.2 341.8 427.75 348 C430.2 354.2 433.0 373.0 434 378"/>
<path class="t" d="M93.75 545 C104.8 540.0 138.1 525.2 160 515 C181.9 504.8 194.6 502.5 225 484 C255.4 465.5 318.3 420.5 342.25 404 C366.2 387.5 360.4 391.3 368.5 385 C376.6 378.7 385.2 371.0 391 366.25 C396.8 361.5 399.8 358.9 403.5 356.25 C407.2 353.6 410.1 351.6 413.5 350.6 C416.9 349.6 420.6 349.2 424 350 C427.4 350.8 432.3 354.6 434 355.5"/>
<path class="t" d="M409.5 351 L421.5 378"/>
<path class="t" d="M420 350 L431 378"/>
</g>
<path class="t" d="M780.5 236.3 L600 538"/>
<g clip-path="url(#cP)"><g transform="translate(696,220) scale(.25)">
<path class="t" d="M20 540 L270 630 L320 635 L480 685"/>
<path class="t" d="M480 685 C482.0 690.0 498.7 695.8 492 715 C485.3 734.2 453.7 783.3 440 800 C426.3 816.7 415.0 812.5 410 815"/>
<path class="t" d="M410 815 L205 740 L0 650"/>
<path class="t" d="M205 740 L190 832"/>
</g></g>
<g clip-path="url(#cQ)"><g transform="translate(696,400) scale(.25)">
<path class="t" d="M160 0 L205 20 L400 95"/>
<path class="t" d="M400 95 C405.0 94.2 415.0 104.2 430 90 C445.0 75.8 479.2 25.0 490 10 C500.8 -5.0 494.2 1.7 495 0"/>
<path class="t" d="M205 20 C202.5 36.7 195.0 93.3 190 120 C185.0 146.7 177.5 151.7 175 180 C172.5 208.3 175.0 271.7 175 290"/>
<path class="t" d="M75 110 L30 170"/>
<path class="t" d="M160 145 L130 210"/>
<path class="m" d="M10 215 C15.0 209.2 26.7 185.5 40 180 C53.3 174.5 75.8 174.5 90 182 C104.2 189.5 118.7 207.8 125 225 C131.3 242.2 131.3 274.2 128 285 C124.7 295.8 108.8 289.2 105 290"/>
<path class="m" d="M20 230 C25.0 226.3 39.2 210.5 50 208 C60.8 205.5 75.8 208.0 85 215 C94.2 222.0 102.5 238.3 105 250 C107.5 261.7 100.8 279.2 100 285"/>
<path class="t" d="M10 215 C15.0 225.8 30.8 255.8 40 280 C49.2 304.2 60.8 346.7 65 360"/>
<path class="t" d="M100 285 C94.2 297.5 71.7 324.2 65 360 C58.3 395.8 60.8 476.7 60 500"/>
<path class="t" d="M0 290 C5.0 289.2 21.7 283.3 30 285 C38.3 286.7 45.0 290.8 50 300 C55.0 309.2 58.3 333.3 60 340"/>
<path class="t" d="M130 270 L265 320 L265 355 L285 370 L280 385 L245 390 L210 425 L185 430 L70 395"/>
<path class="t" d="M15 300 C15.8 320.0 22.5 380.0 20 420 C17.5 460.0 3.3 520.0 0 540"/>
<path class="t" d="M65 360 C65.8 380.0 71.7 450.0 70 480 C68.3 510.0 61.7 506.7 55 540 C48.3 573.3 32.5 653.3 30 680 C27.5 706.7 40.0 693.3 40 700 C40.0 706.7 36.7 713.3 30 720 C23.3 726.7 5.0 736.7 0 740"/>
<path class="k" d="M60 510 L300 640"/>
<path class="k" d="M400 535 C405.0 531.7 416.7 519.5 430 515 C443.3 510.5 463.3 507.5 480 508 C496.7 508.5 516.7 513.5 530 518 C543.3 522.5 555.0 532.2 560 535"/>
<path class="t" d="M440 560 C450.0 554.2 481.7 530.0 500 525 C518.3 520.0 541.7 529.2 550 530"/>
</g></g>
<g clip-path="url(#cR2)"><g transform="translate(560,520) scale(.25)">
<path class="k" d="M550 15 C533.3 17.5 483.3 19.2 450 30 C416.7 40.8 381.7 57.5 350 80 C318.3 102.5 285.0 133.3 260 165 C235.0 196.7 213.0 235.8 200 270 C187.0 304.2 182.0 341.7 182 370 C182.0 398.3 190.3 421.7 200 440 C209.7 458.3 226.7 471.7 240 480 C253.3 488.3 273.3 488.3 280 490"/>
<path class="t" d="M540 45 C525.0 47.5 480.0 50.0 450 60 C420.0 70.0 388.3 85.0 360 105 C331.7 125.0 301.7 150.8 280 180 C258.3 209.2 240.8 248.3 230 280 C219.2 311.7 214.2 343.3 215 370 C215.8 396.7 225.8 421.7 235 440 C244.2 458.3 264.2 473.3 270 480"/>
<path class="t" d="M210 0 L155 100 L250 165"/>
<path class="t" d="M555 0 C553.3 10.0 550.8 35.0 545 60 C539.2 85.0 529.2 131.7 520 150 C510.8 168.3 494.2 162.5 490 170 C485.8 177.5 497.5 187.5 495 195 C492.5 202.5 477.5 205.8 475 215 C472.5 224.2 480.8 240.8 480 250 C479.2 259.2 471.7 266.7 470 270"/>
<path class="t" d="M605 0 C604.2 13.3 605.0 50.8 600 80 C595.0 109.2 577.5 155.0 575 175 C572.5 195.0 585.8 192.5 585 200 C584.2 207.5 574.2 212.5 570 220 C565.8 227.5 567.5 231.7 560 245 C552.5 258.3 530.8 290.8 525 300"/>
<path class="m" d="M470 270 L490 262 L520 275 L525 298 L505 300 L475 285 L470 270"/>
<path class="m" d="M475 285 L415 400"/>
<path class="m" d="M515 300 L455 410"/>
<path class="m" d="M330 490 C336.7 477.5 358.3 429.2 370 415 C381.7 400.8 388.3 405.0 400 405 C411.7 405.0 428.3 409.2 440 415 C451.7 420.8 465.0 429.2 470 440 C475.0 450.8 476.7 462.5 470 480 C463.3 497.5 436.7 534.2 430 545"/>
<path class="m" d="M260 620 C255.8 616.7 238.3 610.0 235 600 C231.7 590.0 230.8 577.5 240 560 C249.2 542.5 275.0 506.7 290 495 C305.0 483.3 315.0 485.8 330 490 C345.0 494.2 363.3 510.0 380 520 C396.7 530.0 419.2 536.7 430 550 C440.8 563.3 442.5 591.7 445 600"/>
<path class="t" d="M250 545 C256.7 543.3 275.0 531.7 290 535 C305.0 538.3 325.0 554.2 340 565 C355.0 575.8 372.5 584.2 380 600 C387.5 615.8 384.2 650.0 385 660"/>
<path class="t" d="M265 580 C270.8 578.3 285.8 566.7 300 570 C314.2 573.3 340.0 586.7 350 600 C360.0 613.3 365.0 633.3 360 650 C355.0 666.7 323.3 687.5 320 700 C316.7 712.5 336.7 720.8 340 725"/>
<path class="m" d="M265 590 C254.2 606.7 213.3 668.3 200 690 C186.7 711.7 185.0 711.7 185 720 C185.0 728.3 190.8 738.3 200 740 C209.2 741.7 228.3 728.3 240 730 C251.7 731.7 264.2 741.7 270 750 C275.8 758.3 280.0 766.3 275 780 C270.0 793.7 245.8 823.3 240 832"/>
<path class="t" d="M355 650 L290 740"/>
<path class="m" d="M200 740 L120 860"/>
<path class="m" d="M225 735 L170 862"/>
<path class="t" d="M0 580 L145 625"/>
<path class="t" d="M0 680 L140 720"/>
<path class="t" d="M195 470 C189.2 485.0 168.3 528.3 160 560 C151.7 591.7 148.3 630.0 145 660 C141.7 690.0 139.2 711.3 140 740 C140.8 768.7 148.3 816.7 150 832"/>
<path class="t" d="M0 700 L30 832"/>
</g></g>
<g clip-path="url(#cU)"><g transform="translate(440,470) scale(.125)">
<path class="k" d="M520 0 L660 90"/>
<path class="k" d="M660 90 C676.7 87.5 728.3 73.3 760 75 C791.7 76.7 826.7 84.2 850 100 C873.3 115.8 893.3 140.0 900 170 C906.7 200.0 900.0 241.7 890 280 C880.0 318.3 861.7 363.3 840 400 C818.3 436.7 790.0 470.0 760 500 C730.0 530.0 696.7 564.2 660 580 C623.3 595.8 583.3 598.3 540 595 C496.7 591.7 443.3 572.5 400 560 C356.7 547.5 325.0 533.3 280 520 C235.0 506.7 155.0 486.7 130 480"/>
<path class="k" d="M130 480 C126.3 470.0 111.0 438.3 108 420 C105.0 401.7 105.0 389.2 112 370 C119.0 350.8 143.7 315.8 150 305"/>
<path class="k" d="M400 240 L560 150 L660 110"/>
<ellipse class="k" cx="480" cy="355" rx="78" ry="92" transform="rotate(-20 480 355)"/>
<ellipse class="m" cx="480" cy="358" rx="45" ry="55" transform="rotate(-20 480 358)"/>
<circle class="f" cx="470" cy="355" r="14"/>
<path class="k" d="M540 435 C556.7 425.8 610.0 402.5 640 380 C670.0 357.5 693.3 320.8 720 300 C746.7 279.2 773.3 263.3 800 255 C826.7 246.7 866.7 250.8 880 250"/>
<path class="k" d="M700 225 L720 290"/>
<path class="k" d="M0 265 L150 300 L300 335 L395 358"/>
<path class="k" d="M0 410 L100 430 L130 480"/>
<path class="k" d="M330 360 C323.3 370.0 299.7 395.0 290 420 C280.3 445.0 275.0 495.0 272 510"/>
<path class="t" d="M400 400 L300 480"/>
<path class="t" d="M165 15 L160 580"/>
<path class="t" d="M150 580 L215 545"/>
<path class="k" d="M0 490 C13.3 505.0 56.7 545.0 80 580 C103.3 615.0 131.7 658.0 140 700 C148.3 742.0 131.7 810.0 130 832"/>
<path class="f" d="M645 635 L700 720 L765 832 L650 832 Z"/>
</g></g>
<path class="f" d="M519.8 551 L521.5 576.5 L534 572 Z"/>
<path class="k" style="stroke-width:2.5px" d="M528.5 575 Q555 680 577.5 760"/>
<text x="569.9" y="791" font-size="32">B</text>
<path class="t" d="M490 641.3 L560 665 M490 664.5 L560 690"/>
<!-- diag lines right -->
<path class="k" d="M796 533.8 L618.8 733.8 M832.3 594.5 L712.3 734.5 M841 662 L791 721.3"/>
<path class="t" d="M806 540 L640 730 M833.5 535 L653.8 727.5 M834.8 578.8 L708.5 726.3 M836 652.5 L777.3 722.5"/>
<!-- C label + arrow shaft -->
<text x="383" y="794" font-size="32.5">C</text>
<path class="k" style="stroke-width:2.4px" d="M343 582.5 L390.5 763.8"/>
<path class="t" d="M291.8 731.3 L408 640 Q428 628 448 628.8 L490 641.3 M301.8 753.8 L425.5 657.5 Q443 650 455.5 653.8 L490 665"/>
<!-- W bottom-left -->
<path class="k" d="M108.8 605 L258 573.2 M112.5 625.5 L258 593.3 M112 635 L258 605.3"/>
<g transform="translate(30,560) scale(.25)">
<path class="t" d="M540 265 L545 350"/>
<path class="t" d="M580 285 C575.0 297.5 566.7 330.8 550 360 C533.3 389.2 505.0 428.3 480 460 C455.0 491.7 429.2 524.7 400 550 C370.8 575.3 320.8 601.7 305 612"/>
<path class="t" d="M710 240 C720.0 246.7 756.7 263.3 770 280 C783.3 296.7 786.7 320.0 790 340 C793.3 360.0 795.0 373.3 790 400 C785.0 426.7 775.0 466.7 760 500 C745.0 533.3 726.7 566.7 700 600 C673.3 633.3 635.8 670.0 600 700 C564.2 730.0 504.2 766.7 485 780"/>
<path class="t" d="M740 225 C748.3 229.2 778.3 237.5 790 250 C801.7 262.5 808.3 280.8 810 300 C811.7 319.2 801.7 354.2 800 365"/>
<path class="t" d="M800 365 C811.7 364.2 855.0 363.3 870 360 C885.0 356.7 880.3 345.0 890 345 C899.7 345.0 921.7 357.5 928 360"/>
<path class="t" d="M928 620 C903.3 633.3 836.3 673.3 780 700 C723.7 726.7 621.7 766.7 590 780"/>
</g>
<g clip-path="url(#cY)"><g transform="translate(374,238) scale(.25)">
<path class="t" d="M160 460 L200 560"/>
<path class="t" d="M200 455 L240 560"/>
<path class="t" d="M75 515 L90 540 L150 555 L250 570 L380 568 L400 550 L430 560 L445 580 L520 588"/>
<path class="t" d="M100 630 L200 650 L250 670 L350 690 L380 682 L500 690 L620 700"/>
<path class="t" d="M362 0 L360 230"/>
<path class="t" d="M355 280 L351 600"/>
</g></g>
</svg>
</body></html>
